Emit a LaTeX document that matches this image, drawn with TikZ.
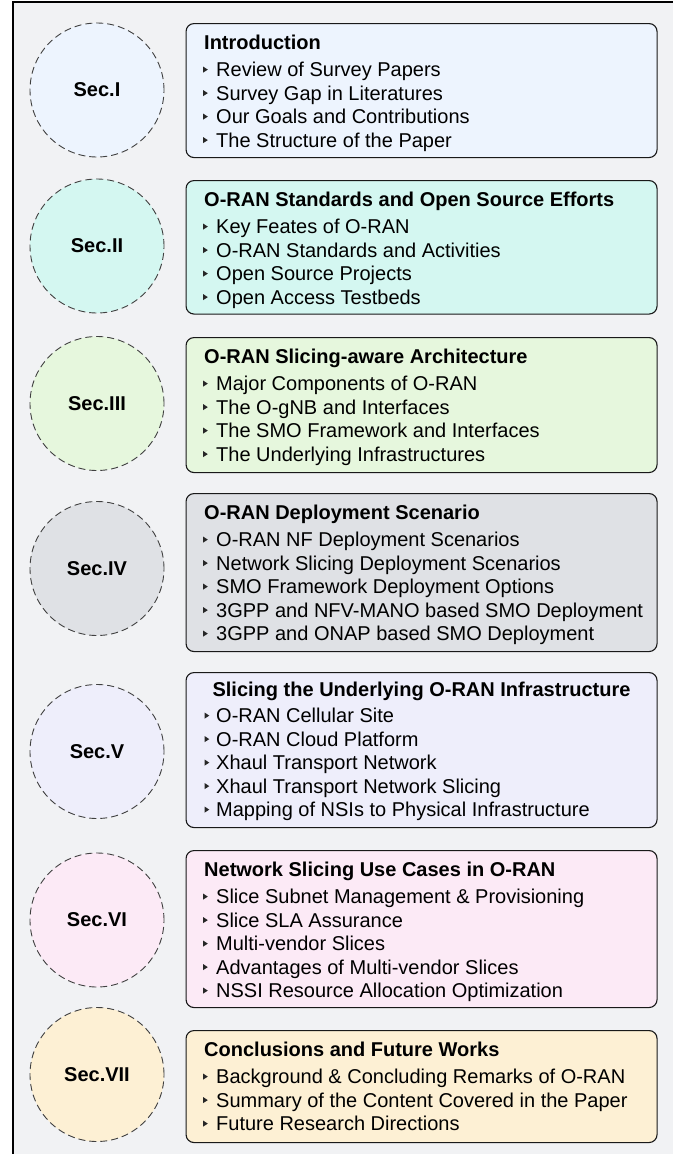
\documentclass[tikz,border=0pt]{standalone}
\usepackage{fontspec}
\setmainfont{Liberation Sans}
\definecolor{bgc}{HTML}{F1F2F4}
\definecolor{cI}{HTML}{EDF4FE}
\definecolor{cII}{HTML}{D4F7F1}
\definecolor{cIII}{HTML}{E6F7DD}
\definecolor{cIV}{HTML}{DFE1E5}
\definecolor{cV}{HTML}{EEEEFB}
\definecolor{cVI}{HTML}{FCEAF6}
\definecolor{cVII}{HTML}{FDF0D4}
\newcommand\sectionitems[4]{%
  \foreach \t [count=\i] in {#4} {
    \pgfmathsetmacro\yb{#3+23.5*(\i-1)}
    \node[itm] (#1-\i) at (216,\yb) {\t};
    \fill[black!85] (#2,\yb-10) -- (#2,\yb-3.8) -- (#2+4.8,\yb-6.9) -- cycle;
  }}
\begin{document}
\begin{tikzpicture}[x=1bp,y=-1bp,
  secbox/.style={draw=black!90, line width=1.1bp, rounded corners=8bp, anchor=north west, inner sep=0, minimum width=471bp},
  seccirc/.style={circle, draw=black!75, dash pattern=on 7bp off 4bp, line width=0.9bp, minimum size=134bp, inner sep=0, font=\bfseries\fontsize{20bp}{23.5bp}\selectfont},
  ttl/.style={anchor=base west, inner sep=0, font=\bfseries\fontsize{20bp}{23.5bp}\selectfont},
  itm/.style={anchor=base west, inner sep=0, font=\fontsize{20bp}{23.5bp}\selectfont},
]
\useasboundingbox (0,0) rectangle (676,1154);
\fill[bgc] (12.75,1.75) rectangle (673,1154);
\draw[line width=1.5bp] (12.75,1154) -- (12.75,1.75) -- (673,1.75);

% Sec I
\node[secbox, fill=cI, minimum height=134bp] (bI) at (185.5,23) {};
\node[seccirc, fill=cI] (sI) at (97,90) {Sec.I};
\node[ttl] (tI) at (204,49) {Introduction};
\sectionitems{iI}{203}{76.5}{Review of Survey Papers, Survey Gap in Literatures, Our Goals and Contributions, The Structure of the Paper}

% Sec II
\node[secbox, fill=cII, minimum height=133.5bp] (bII) at (185.5,180) {};
\node[seccirc, fill=cII] (sII) at (97,246) {Sec.II};
\node[ttl] (tII) at (204,206) {O-RAN Standards and Open Source Efforts};
\sectionitems{iII}{203}{233.5}{Key Feates of O-RAN, O-RAN Standards and Activities, Open Source Projects, Open Access Testbeds}

% Sec III
\node[secbox, fill=cIII, minimum height=135bp] (bIII) at (185.5,337) {};
\node[seccirc, fill=cIII] (sIII) at (97,403.5) {Sec.III};
\node[ttl] (tIII) at (204,363) {O-RAN Slicing-aware Architecture};
\sectionitems{iIII}{203}{390.5}{Major Components of O-RAN, The O-gNB and Interfaces, The SMO Framework and Interfaces, The Underlying Infrastructures}

% Sec IV
\node[secbox, fill=cIV, minimum height=158bp] (bIV) at (185.5,493) {};
\node[seccirc, fill=cIV] (sIV) at (97,568.5) {Sec.IV};
\node[ttl] (tIV) at (204,519) {O-RAN Deployment Scenario};
\sectionitems{iIV}{203}{546.5}{O-RAN NF Deployment Scenarios, Network Slicing Deployment Scenarios, SMO Framework Deployment Options, 3GPP and NFV-MANO based SMO Deployment, 3GPP and ONAP based SMO Deployment}

% Sec V
\node[secbox, fill=cV, minimum height=155bp] (bV) at (185.5,672) {};
\node[seccirc, fill=cV] (sV) at (97,751.5) {Sec.V};
\node[ttl, anchor=base] (tV) at (421.5,696) {Slicing the Underlying O-RAN Infrastructure};
\sectionitems{iV}{204.5}{722.5}{O-RAN Cellular Site, O-RAN Cloud Platform, Xhaul Transport Network, Xhaul Transport Network Slicing, Mapping of NSIs to Physical Infrastructure}

% Sec VI
\node[secbox, fill=cVI, minimum height=157bp] (bVI) at (185.5,850) {};
\node[seccirc, fill=cVI] (sVI) at (97,920) {Sec.VI};
\node[ttl] (tVI) at (204,876) {Network Slicing Use Cases in O-RAN};
\sectionitems{iVI}{203}{903.5}{Slice Subnet Management \& Provisioning, Slice SLA Assurance, Multi-vendor Slices, Advantages of Multi-vendor Slices, NSSI Resource Allocation Optimization}

% Sec VII
\node[secbox, fill=cVII, minimum height=112bp] (bVII) at (185.5,1030) {};
\node[seccirc, fill=cVII] (sVII) at (97,1074.5) {Sec.VII};
\node[ttl] (tVII) at (204,1056) {Conclusions and Future Works};
\sectionitems{iVII}{203}{1083.5}{Background \& Concluding Remarks of O-RAN, Summary of the Content Covered in the Paper, Future Research Directions}
\end{tikzpicture}
\end{document}
